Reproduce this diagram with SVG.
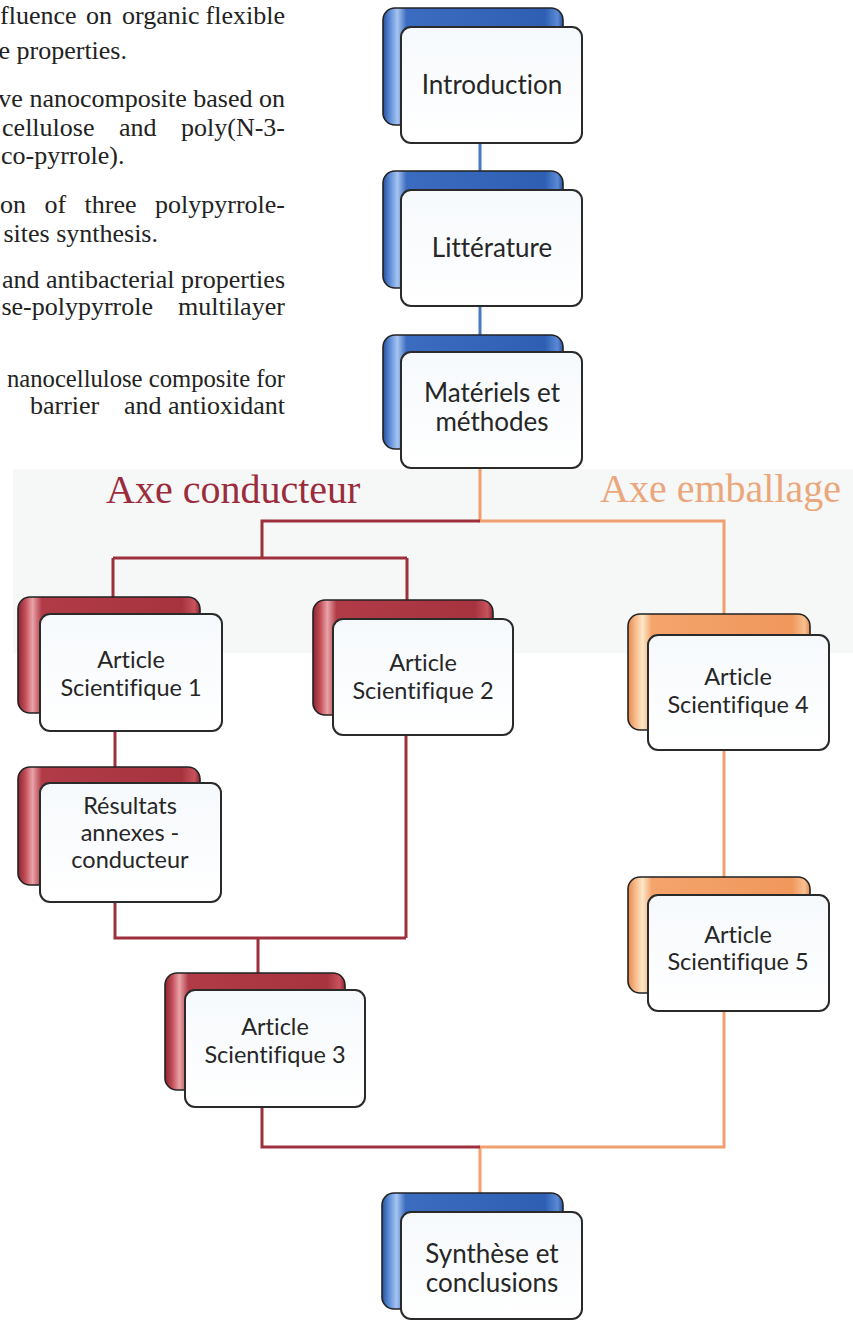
<svg xmlns="http://www.w3.org/2000/svg" width="853" height="1322" viewBox="0 0 853 1322">
<defs>
<linearGradient id="gBlue" x1="0" y1="0" x2="1" y2="0">
<stop offset="0" stop-color="#27509c"/><stop offset="0.04" stop-color="#5f8fd9"/><stop offset="0.08" stop-color="#a6c4f0"/><stop offset="0.13" stop-color="#3b6cc0"/><stop offset="0.9" stop-color="#2f5fb3"/><stop offset="0.97" stop-color="#5a8ad6"/><stop offset="1" stop-color="#27509c"/>
</linearGradient>
<linearGradient id="gRed" x1="0" y1="0" x2="1" y2="0">
<stop offset="0" stop-color="#8a2430"/><stop offset="0.04" stop-color="#c24c57"/><stop offset="0.08" stop-color="#e9a3a8"/><stop offset="0.13" stop-color="#b13c47"/><stop offset="0.9" stop-color="#a6333e"/><stop offset="0.97" stop-color="#c8535d"/><stop offset="1" stop-color="#8a2430"/>
</linearGradient>
<linearGradient id="gOrange" x1="0" y1="0" x2="1" y2="0">
<stop offset="0" stop-color="#e38a50"/><stop offset="0.04" stop-color="#f7b987"/><stop offset="0.08" stop-color="#fde8c8"/><stop offset="0.13" stop-color="#f4a46c"/><stop offset="0.9" stop-color="#f0975c"/><stop offset="0.97" stop-color="#f8c090"/><stop offset="1" stop-color="#e38a50"/>
</linearGradient>
<linearGradient id="gFront" x1="0" y1="0" x2="0" y2="1">
<stop offset="0" stop-color="#f6f9fc"/><stop offset="1" stop-color="#ffffff"/>
</linearGradient>
</defs>
<style>
.para{font-family:"Liberation Serif","Times New Roman",serif;font-size:26px;fill:#222}
.back{stroke:#222;stroke-width:1.6}
.blue{fill:url(#gBlue)}
.red{fill:url(#gRed)}
.orange{fill:url(#gOrange)}
.front{fill:url(#gFront);stroke:#2a2a2a;stroke-width:2}
.lbl{font-family:Lato,"Open Sans",sans-serif;fill:#262626;text-anchor:middle;font-variant-ligatures:none}
.big{font-size:26px}
.small{font-size:23.5px}
.axis{font-family:"Liberation Serif","Times New Roman",serif;font-size:40px}
.cb{stroke:#4a78c2;stroke-width:3;fill:none}
.cr{stroke:#9e2f3d;stroke-width:3;fill:none}
.co{stroke:#f0a06e;stroke-width:3;fill:none}
</style>
<rect x="0" y="0" width="853" height="1322" fill="#ffffff"/>
<rect x="13" y="469" width="840" height="184" fill="#f6f7f7"/>

<g id="abstract-text">
<text class="para"><tspan x="0" y="24">fluence</tspan><tspan x="86" y="24">on</tspan><tspan x="122" y="24">organic</tspan><tspan x="205.6" y="24">flexible</tspan></text>
<text class="para" x="127" y="59" text-anchor="end">e properties.</text>
<text class="para" x="285" y="107" text-anchor="end">ve nanocomposite based on</text>
<text class="para" x="285" y="136" text-anchor="end" word-spacing="18">cellulose and poly(N-3-</text>
<text class="para" x="1" y="164">co-pyrrole).</text>
<text class="para" x="285" y="213" text-anchor="end" word-spacing="12">on of three polypyrrole-</text>
<text class="para" x="158" y="242" text-anchor="end">sites synthesis.</text>
<text class="para" x="285" y="288" text-anchor="end">and antibacterial properties</text>
<text class="para"><tspan x="153" y="315" text-anchor="end">se-polypyrrole</tspan><tspan x="178" y="315">multilayer</tspan></text>
<text class="para" x="7" y="387" textLength="278" lengthAdjust="spacingAndGlyphs">nanocellulose composite for</text>
<text class="para"><tspan x="30" y="414">barrier</tspan><tspan x="124" y="414">and</tspan><tspan x="168" y="414">antioxidant</tspan></text>
</g>

<g id="axis-labels">
<text id="axe-conducteur" class="axis" x="106" y="503" fill="#9b2c3c">Axe conducteur</text>
<text id="axe-emballage" class="axis" x="600" y="502" fill="#eba77c">Axe emballage</text>
</g>

<g id="connectors">
<path class="cb" d="M480 143V171M480 306V335"/>
<path class="co" d="M480 468V521H724V614M724 750V877M724 1011V1147H480V1193"/>
<path class="cr" d="M480 521H262V558M113 558H407M113 558V597M407 558V600M115 731V767M115 902V938H406M406 735V938M258 938V973M262 1107V1147H480"/>
</g>

<g id="node-introduction">
<rect class="back blue" x="383" y="8" width="180" height="117" rx="12"/>
<rect class="front" x="401" y="27" width="181" height="116" rx="10"/>
<text class="lbl big" x="492" y="94">Introduction</text>
</g>
<g id="node-litterature">
<rect class="back blue" x="383" y="171" width="180" height="117" rx="12"/>
<rect class="front" x="401" y="190" width="181" height="116" rx="10"/>
<text class="lbl big" x="492" y="257">Littérature</text>
</g>
<g id="node-materiels">
<rect class="back blue" x="383" y="335" width="180" height="114" rx="12"/>
<rect class="front" x="401" y="352" width="181" height="116" rx="10"/>
<text class="lbl big" x="492" y="402">Matériels et</text>
<text class="lbl big" x="492" y="431">méthodes</text>
</g>

<g id="node-article1">
<rect class="back red" x="18" y="597" width="182" height="116" rx="12"/>
<rect class="front" x="40" y="614" width="182" height="117" rx="10"/>
<text class="lbl small" x="131" y="668">Article</text>
<text class="lbl small" x="131" y="696">Scientifique 1</text>
</g>
<g id="node-article2">
<rect class="back red" x="313" y="600" width="180" height="115" rx="12"/>
<rect class="front" x="333" y="619" width="180" height="116" rx="10"/>
<text class="lbl small" x="423" y="671">Article</text>
<text class="lbl small" x="423" y="699">Scientifique 2</text>
</g>
<g id="node-resultats">
<rect class="back red" x="18" y="767" width="182" height="118" rx="12"/>
<rect class="front" x="40" y="783" width="181" height="119" rx="10"/>
<text class="lbl small" x="130" y="814">Résultats</text>
<text class="lbl small" x="130" y="841">annexes -</text>
<text class="lbl small" x="130" y="868">conducteur</text>
</g>
<g id="node-article3">
<rect class="back red" x="165" y="973" width="180" height="117" rx="12"/>
<rect class="front" x="185" y="990" width="180" height="117" rx="10"/>
<text class="lbl small" x="275" y="1035">Article</text>
<text class="lbl small" x="275" y="1063">Scientifique 3</text>
</g>
<g id="node-article4">
<rect class="back orange" x="628" y="614" width="182" height="116" rx="12"/>
<rect class="front" x="648" y="635" width="181" height="115" rx="10"/>
<text class="lbl small" x="738" y="685">Article</text>
<text class="lbl small" x="738" y="713">Scientifique 4</text>
</g>
<g id="node-article5">
<rect class="back orange" x="628" y="877" width="182" height="116" rx="12"/>
<rect class="front" x="648" y="895" width="181" height="116" rx="10"/>
<text class="lbl small" x="738" y="943">Article</text>
<text class="lbl small" x="738" y="970">Scientifique 5</text>
</g>
<g id="node-synthese">
<rect class="back blue" x="382" y="1193" width="181" height="116" rx="12"/>
<rect class="front" x="401" y="1212" width="181" height="107" rx="10"/>
<text class="lbl big" x="492" y="1263">Synthèse et</text>
<text class="lbl big" x="492" y="1292">conclusions</text>
</g>
</svg>
